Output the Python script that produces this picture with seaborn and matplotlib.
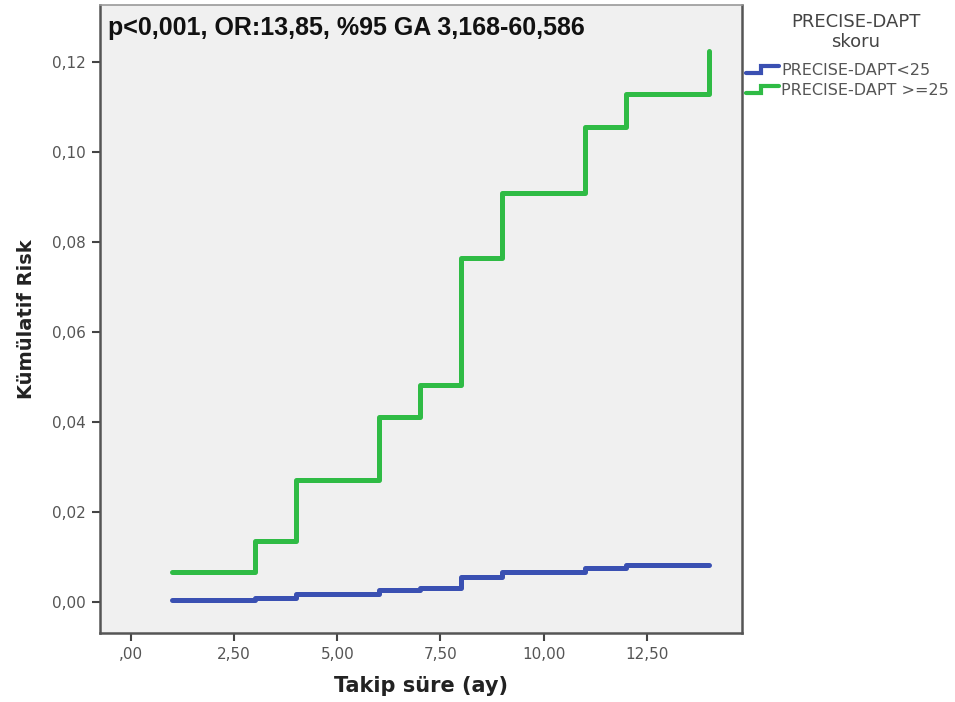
import numpy as np
import pandas as pd
import matplotlib
matplotlib.use("Agg")
import matplotlib.pyplot as plt
import seaborn as sns
from matplotlib.legend_handler import HandlerLine2D
from matplotlib.lines import Line2D

# Kaplan-Meier style cumulative risk
months = [1, 3, 4, 6, 7, 8, 9, 11, 12, 14]
risk_low = [0.0004, 0.0009, 0.0018, 0.0027, 0.0031, 0.0055, 0.0066, 0.0077, 0.0082, 0.0082]
risk_high = [0.0066, 0.0135, 0.0271, 0.0411, 0.0482, 0.0764, 0.0910, 0.1057, 0.1130, 0.1225]
group_names = ["PRECISE-DAPT<25", "PRECISE-DAPT >=25"]
group_colors = ["#3a50b2", "#2fbb45"]

x_ticks = [0, 2.5, 5, 7.5, 10, 12.5]
x_tick_labels = [",00", "2,50", "5,00", "7,50", "10,00", "12,50"]
y_ticks = [0, 0.02, 0.04, 0.06, 0.08, 0.10, 0.12]
y_tick_labels = ["0,00", "0,02", "0,04", "0,06", "0,08", "0,10", "0,12"]

df = pd.DataFrame({
    "time": months + months,
    "risk": risk_low + risk_high,
    "group": [group_names[0]] * len(months) + [group_names[1]] * len(months),
})

sns.set_style("white")
plt.rcParams["font.family"] = ["DejaVu Sans"]

fig = plt.figure(figsize=(9.55, 7.02), dpi=100)
ax = fig.add_axes([0.1047, 0.098, 0.672, 0.8946])
ax.set_facecolor("#f0f0f0")

sns.lineplot(data=df, x="time", y="risk", hue="group", palette=group_colors,
             drawstyle="steps-post", linewidth=3.6, estimator=None, legend=False, ax=ax)

ax.set_xlim(-0.75, 14.8)
ax.set_ylim(-0.0069, 0.1327)
ax.set_xticks(x_ticks)
ax.set_xticklabels(x_tick_labels, color="#555555", fontsize=11)
ax.set_yticks(y_ticks)
ax.set_yticklabels(y_tick_labels, color="#555555", fontsize=11)
ax.tick_params(axis="both", direction="out", length=6, width=1.5, color="#444444",
               bottom=True, left=True, pad=4)

for side in ["left", "bottom", "right"]:
    ax.spines[side].set_color("#555555")
    ax.spines[side].set_linewidth(1.8)
ax.spines["top"].set_color("#999999")
ax.spines["top"].set_linewidth(1.2)

ax.set_xlabel("Takip süre (ay)", fontsize=15, fontweight="bold", color="#222222", labelpad=10)
ax.set_ylabel("Kümülatif Risk", fontsize=14, fontweight="bold", color="#222222", labelpad=12)

ax.text(0.012, 0.982, "p<0,001, OR:13,85, %95 GA 3,168-60,586", transform=ax.transAxes,
        ha="left", va="top", fontsize=18, fontweight="bold", family="Liberation Sans",
        color="#111111")


class StepHandler(HandlerLine2D):
    def create_artists(self, legend, orig_handle, xdescent, ydescent, width, height, fontsize, trans):
        xs = np.array([0, 0.45, 0.45, 1.0]) * width - xdescent
        ys = np.array([0.2, 0.2, 0.8, 0.8]) * height - ydescent
        line = Line2D(xs, ys, color=orig_handle.get_color(), linewidth=3, solid_joinstyle="miter")
        line.set_transform(trans)
        return [line]


# legend title drawn separately so the gap to the entries matches the original
fig.text(0.896, 0.982, "PRECISE-DAPT\nskoru", ha="center", va="top", fontsize=13,
         color="#444444", multialignment="center", linespacing=1.15)

handles = [Line2D([], [], color=c) for c in group_colors]
leg = fig.legend(handles, group_names, loc="upper left", bbox_to_anchor=(0.781, 0.91),
                 frameon=False, fontsize=11.5,
                 handler_map={Line2D: StepHandler()}, handlelength=2.1, handletextpad=0.1,
                 labelspacing=0.3, borderaxespad=0, borderpad=0)
for t in leg.get_texts():
    t.set_color("#555555")

fig.savefig("out.png", dpi=100)
